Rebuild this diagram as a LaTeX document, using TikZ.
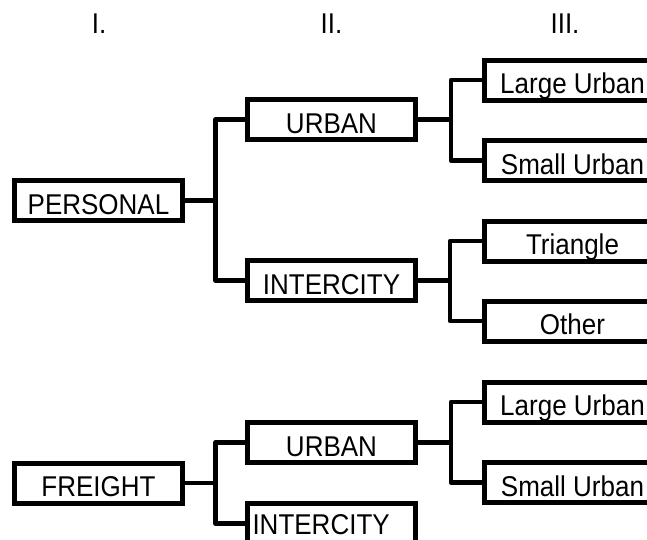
\documentclass[tikz,border=0pt]{standalone}
\usepackage{fontspec}
\setmainfont{Liberation Sans}
\newcommand\tx[1]{\scalebox{1}[1.1]{#1}}
\tikzset{
  box/.style={draw, line width=5pt, line join=miter, inner sep=0pt, outer sep=0pt,
    minimum height=40pt, text height=27pt, text depth=0pt,
    font=\fontsize{26pt}{30pt}\selectfont},
  boxa/.style={box, minimum width=168pt},
  boxc/.style={box, minimum width=176pt, anchor=west},
  link/.style={line width=4.6pt, line join=round, line cap=butt},
  hdr/.style={font=\fontsize{26pt}{30pt}\selectfont, inner sep=0pt, text height=20.5pt, text depth=0pt}
}
\begin{document}
\begin{tikzpicture}[x=1pt,y=-1pt]
\useasboundingbox (0,0) rectangle (647,539);
\fill[white] (0,0) rectangle (647,539);
\clip (0,0) rectangle (647,539);
% headers
\node[hdr] (h1) at (99,23) {\tx{I.}};
\node[hdr] (h2) at (331.5,23) {\tx{II.}};
\node[hdr] (h3) at (565,23) {\tx{III.}};
% personal
\node[boxa] (P) at (98.5,200.5) {\tx{PERSONAL}};
\node[boxa] (U1) at (331.5,119.5) {\tx{URBAN}};
\node[boxa] (I1) at (331.5,280.5) {\tx{INTERCITY}};
\node[boxc] (LU1) at (484.5,80) {\tx{Large Urban}};
\node[boxc] (SU1) at (484.5,160.5) {\tx{Small Urban}};
\node[boxc] (T1) at (484.5,241) {\tx{Triangle}};
\node[boxc] (O1) at (484.5,321) {\tx{Other}};
% freight
\node[boxa] (F) at (98.5,483) {\tx{FREIGHT}};
\node[boxa] (U2) at (331.5,442.5) {\tx{URBAN}};
\node[boxa, text height=21pt] (I2) at (331.5,523.5) {\makebox[158pt][l]{\tx{INTERCITY}}};
\node[boxc] (LU2) at (484.5,402) {\tx{Large Urban}};
\node[boxc] (SU2) at (484.5,482.5) {\tx{Small Urban}};
% junctions
\coordinate (jP) at (215.5,200.5);
\coordinate (jU1) at (451,119.5);
\coordinate (jI1) at (450,280.5);
\coordinate (jF) at (215.5,483);
\coordinate (jU2) at (451,442.5);
% connectors
\draw[link] (P.east) -- (jP);
\draw[link] (U1.west) -| (jP) |- (I1.west);
\draw[link] (U1.east) -- (jU1);
\draw[link] (LU1.west) -| (jU1) |- (SU1.west);
\draw[link] (I1.east) -- (jI1);
\draw[link] (T1.west) -| (jI1) |- (O1.west);
\draw[link] (F.east) -- (jF);
\draw[link] (U2.west) -| (jF) |- (I2.west);
\draw[link] (U2.east) -- (jU2);
\draw[link] (LU2.west) -| (jU2) |- (SU2.west);
\end{tikzpicture}
\end{document}
